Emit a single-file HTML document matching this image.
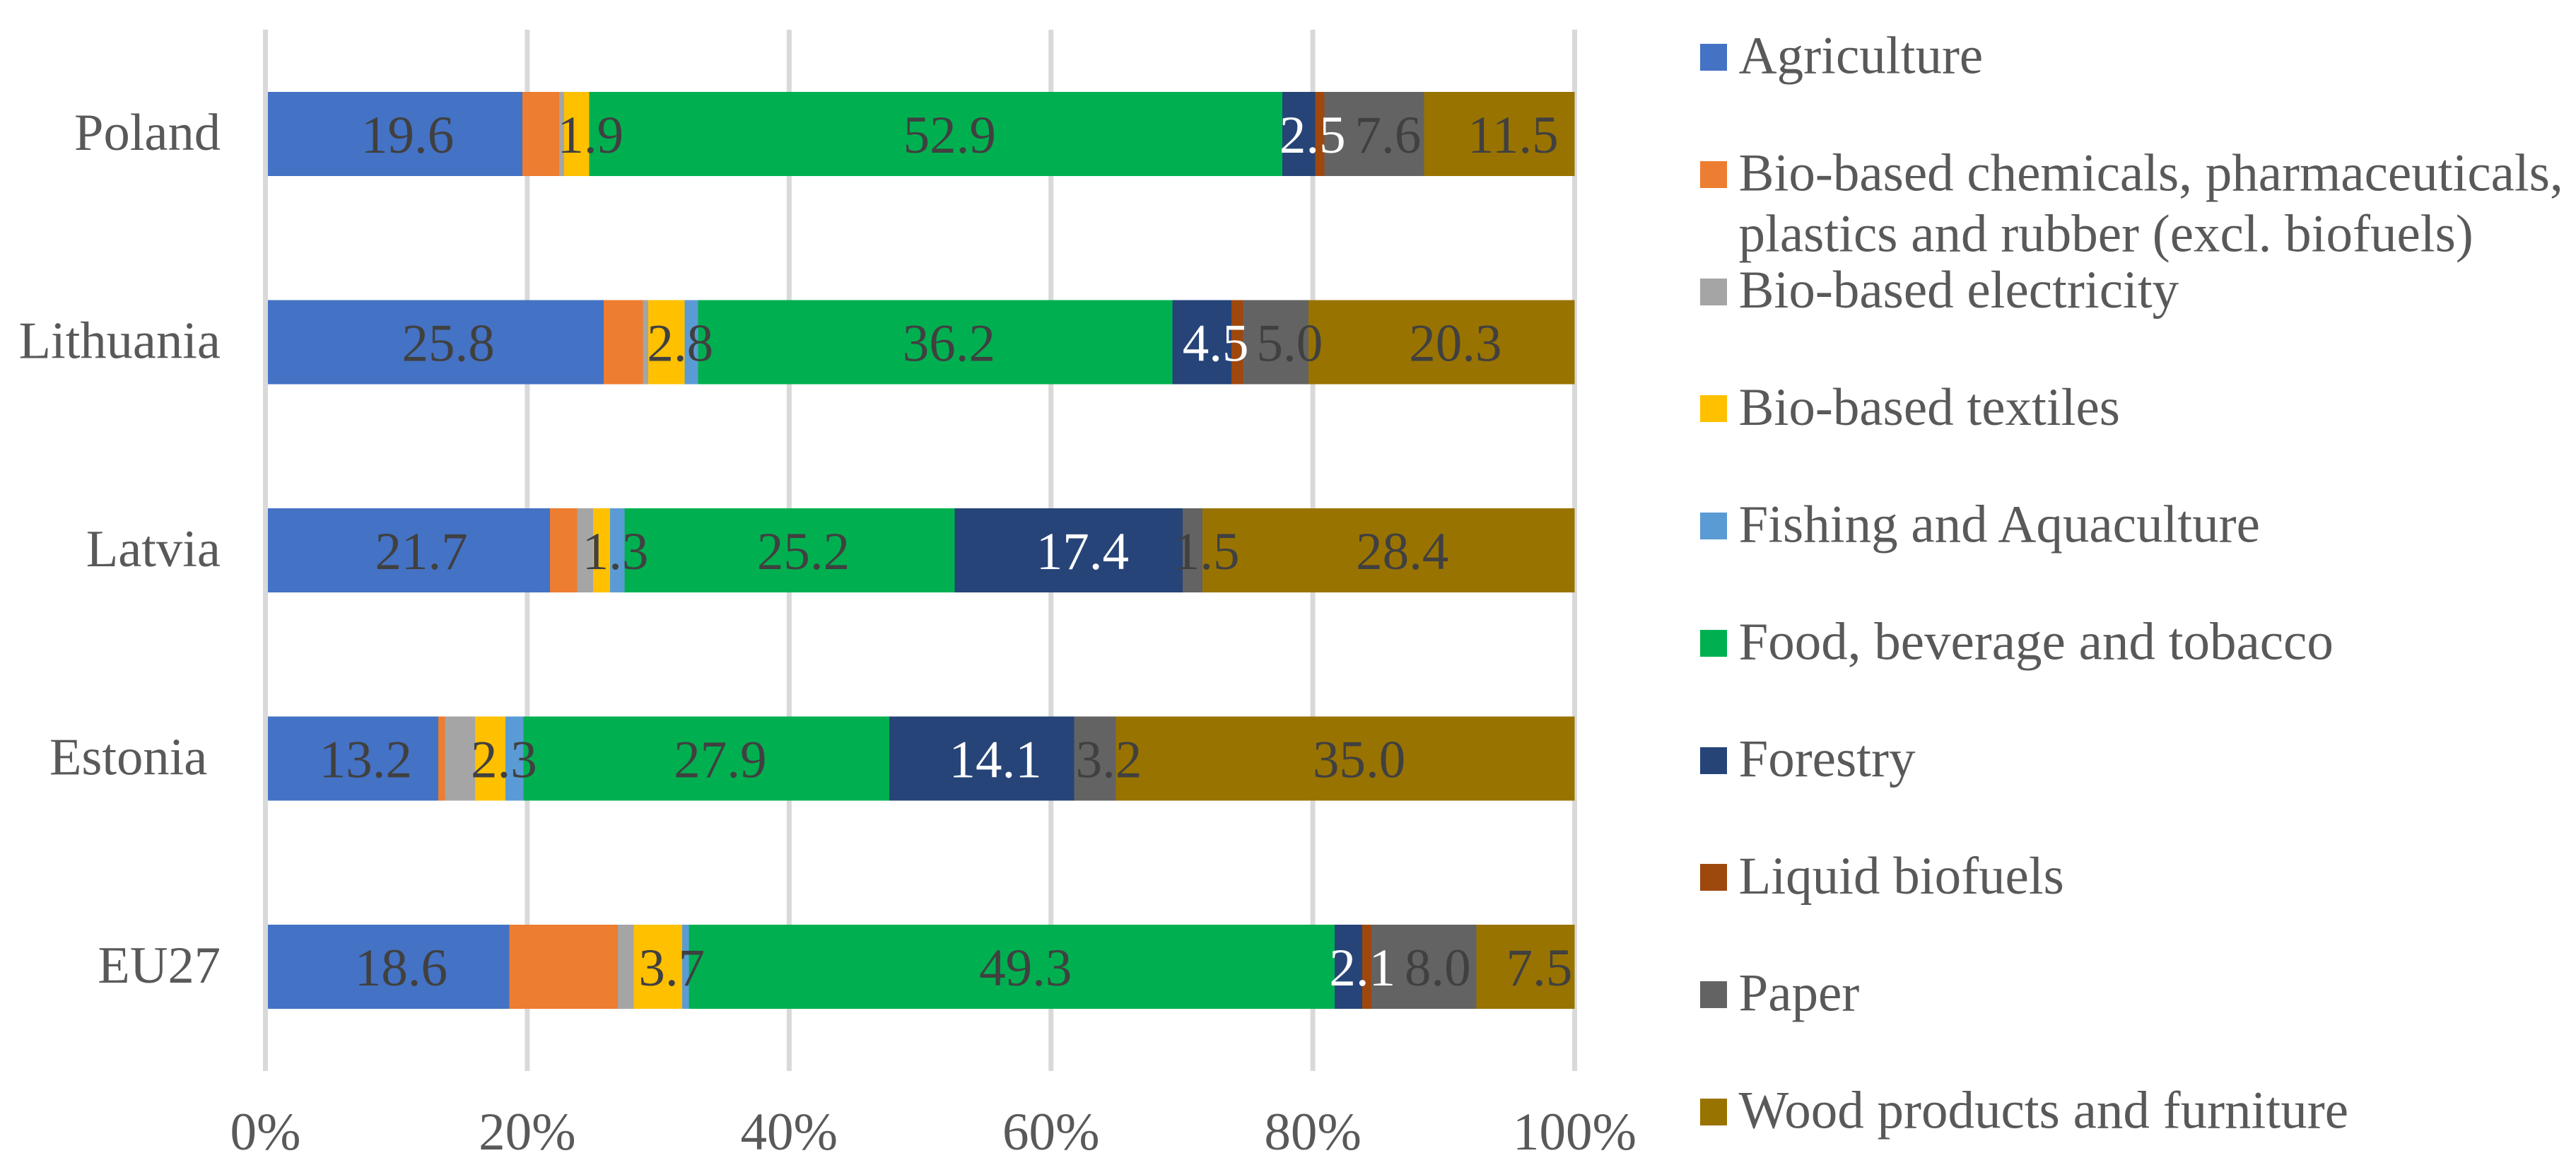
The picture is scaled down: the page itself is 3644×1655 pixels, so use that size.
<!DOCTYPE html>
<html lang="en">
<head>
<meta charset="utf-8">
<title>Bioeconomy employment shares by sector</title>
<style>
  html, body { margin: 0; padding: 0; background: #ffffff; }
  body { width: 3644px; height: 1655px; overflow: hidden; }
  svg { display: block; }
  text { font-family: "Liberation Serif", "Times New Roman", serif; font-size: 75px; }
</style>
</head>
<body>
<svg id="chart" xmlns="http://www.w3.org/2000/svg" width="3644" height="1655" viewBox="0 0 3644 1655"></svg>
<script>
const categories = ["Poland", "Lithuania", "Latvia", "Estonia ", "EU27"];
const seriesNames = ["Agriculture", "Bio-based chemicals, pharmaceuticals, plastics and rubber (excl. biofuels)", "Bio-based electricity", "Bio-based textiles", "Fishing and Aquaculture", "Food, beverage and tobacco", "Forestry", "Liquid biofuels", "Paper", "Wood products and furniture"];
const seriesColors = ["#4472C4", "#ED7D31", "#A5A5A5", "#FFC000", "#5B9BD5", "#00B050", "#264478", "#9E480E", "#636363", "#997300"];
const agriculture = [19.6, 25.8, 21.7, 13.2, 18.6];
const chemicals = [2.8, 3.0, 2.1, 0.5, 8.3];
const electricity = [0.4, 0.4, 1.2, 2.3, 1.2];
const textiles = [1.9, 2.8, 1.3, 2.3, 3.7];
const fishing = [0.0, 1.0, 1.1, 1.4, 0.5];
const food = [52.9, 36.2, 25.2, 27.9, 49.3];
const forestry = [2.5, 4.5, 17.4, 14.1, 2.1];
const biofuels = [0.7, 0.9, 0.0, 0.0, 0.7];
const paper = [7.6, 5.0, 1.5, 3.2, 8.0];
const wood = [11.5, 20.3, 28.4, 35.0, 7.5];
const xTickValues = [0, 20, 40, 60, 80, 100];
const xTickLabels = ["0%", "20%", "40%", "60%", "80%", "100%"];
const legendLines = [["Agriculture"], ["Bio-based chemicals, pharmaceuticals,", "plastics and rubber (excl. biofuels)"], ["Bio-based electricity"], ["Bio-based textiles"], ["Fishing and Aquaculture"], ["Food, beverage and tobacco"], ["Forestry"], ["Liquid biofuels"], ["Paper"], ["Wood products and furniture"]];
const seriesValues = [agriculture, chemicals, electricity, textiles, fishing, food, forestry, biofuels, paper, wood];
const labelledSeries = [true, false, false, true, false, true, true, false, true, true];

const NS = "http://www.w3.org/2000/svg";
const svg = document.getElementById("chart");
const plotLeft = 375.5, plotRight = 2227.5, plotTop = 42, plotBottom = 1515;
const barHeight = 119;
const labelShift = 19.5;
const xScale = function (pct) { return plotLeft + (plotRight - plotLeft) * pct / 100; };
const bandHeight = (plotBottom - plotTop) / categories.length;
const bandCenter = function (i) { return plotTop + bandHeight * (i + 0.5); };

function make(tag, attrs, parent) {
  const el = document.createElementNS(NS, tag);
  for (const k in attrs) el.setAttribute(k, attrs[k]);
  (parent || svg).appendChild(el);
  return el;
}
function slug(s) { return s.trim().toLowerCase().replace(/[^a-z0-9]+/g, "-").replace(/^-|-$/g, ""); }

// gridlines beneath the bars
xTickValues.forEach(function (v, i) {
  if (v === 0) return;
  const g = make("rect", { x: xScale(v) - 3.5, y: plotTop, width: 7, height: plotBottom - plotTop, fill: "#D9D9D9" });
  
  
});

// stacked bars
categories.forEach(function (cat, c) {
  let total = 0;
  seriesValues.forEach(function (vals) { total += vals[c]; });
  let cum = 0;
  const barTop = bandCenter(c) - barHeight / 2;
  seriesValues.forEach(function (vals, s) {
    const v = vals[c] / total * 100;
    const x0 = xScale(cum), x1 = xScale(cum + v);
    cum += v;
    if (vals[c] <= 0) return;
    const r = make("rect", { x: x0, y: barTop, width: x1 - x0, height: barHeight, fill: seriesColors[s], "shape-rendering": "crispEdges" });
    
    
  });
});

// category axis line sits on top of the bars
const axisLine = make("rect", { x: plotLeft - 3.5, y: plotTop, width: 7, height: plotBottom - plotTop, fill: "#D9D9D9" });



// data labels above every bar
categories.forEach(function (cat, c) {
  let total = 0;
  seriesValues.forEach(function (vals) { total += vals[c]; });
  let cum = 0;
  seriesValues.forEach(function (vals, s) {
    const v = vals[c] / total * 100;
    const mid = xScale(cum + v / 2);
    cum += v;
    if (!labelledSeries[s]) return;
    const t = make("text", { x: mid + labelShift, y: bandCenter(c) + 26.5, "text-anchor": "middle", fill: s === 6 ? "#FFFFFF" : "#404040" });
    t.textContent = vals[c].toFixed(1);
    
    
  });
});

// category labels
categories.forEach(function (cat, c) {
  const t = make("text", { x: 312, y: bandCenter(c) + 22.5, "text-anchor": "end", fill: "#595959", "font-size": "74.5", "xml:space": "preserve" });
  t.style.whiteSpace = "pre";
  t.style.fontSize = "74.5px";
  t.textContent = cat;
  
  
});

// x tick labels
xTickValues.forEach(function (v, i) {
  const t = make("text", { x: xScale(v), y: 1626, "text-anchor": "middle", fill: "#595959" });
  t.textContent = xTickLabels[i];
  
  
});

// legend
legendLines.forEach(function (lines, i) {
  const cy = 81 + i * 165.78;
  const g = make("g", {});
  
  
  const sw = make("rect", { x: 2405, y: Math.round(cy - 19), width: 38, height: 38, fill: seriesColors[i], "shape-rendering": "crispEdges" }, g);
  
  
  lines.forEach(function (line, l) {
    const t = make("text", { x: 2459.5, y: cy + 22.5 + l * 86, fill: "#595959" }, g);
    t.textContent = line;
    
    
  });
});
</script>
</body>
</html>
